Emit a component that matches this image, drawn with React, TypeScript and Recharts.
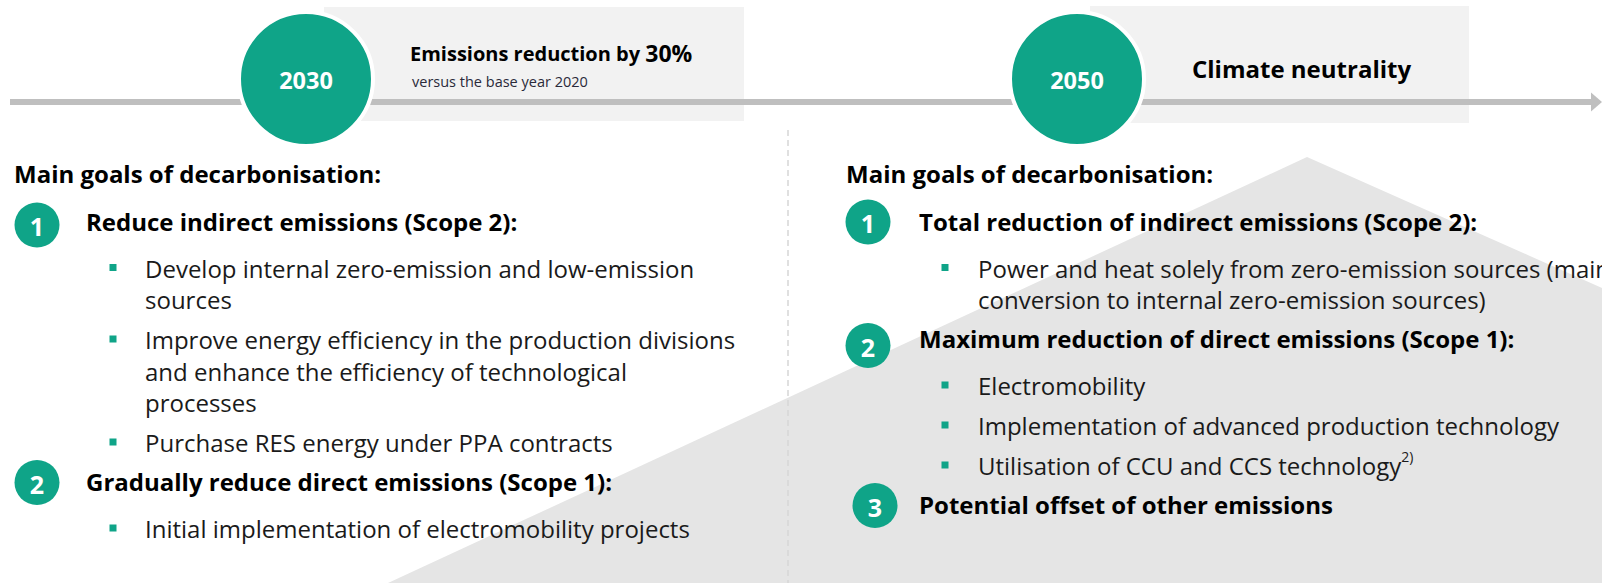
import React from 'react';
import { ComposedChart, XAxis, YAxis, Scatter, Customized } from 'recharts';

const milestoneYears = [2030, 2050];
const milestoneLabels = ['2030', '2050'];
const milestoneHeadlines = ['Emissions reduction by ', 'Climate neutrality'];
const milestoneHighlights = ['30%', ''];
const milestoneNotes = ['versus the base year 2020', ''];

const sectionTitle = 'Main goals of decarbonisation:';

const goals2030 = ['Reduce indirect emissions (Scope 2):', 'Gradually reduce direct emissions (Scope 1):'];
const bullets2030 = [
  [
    ['Develop internal zero-emission and low-emission', 'sources'],
    ['Improve energy efficiency in the production divisions', 'and enhance the efficiency of technological', 'processes'],
    ['Purchase RES energy under PPA contracts'],
  ],
  [['Initial implementation of electromobility projects']],
];
const notes2030 = [['', '', ''], ['']];

const goals2050 = [
  'Total reduction of indirect emissions (Scope 2):',
  'Maximum reduction of direct emissions (Scope 1):',
  'Potential offset of other emissions',
];
const bullets2050 = [
  [['Power and heat solely from zero-emission sources (mainly', 'conversion to internal zero-emission sources)']],
  [['Electromobility'], ['Implementation of advanced production technology'], ['Utilisation of CCU and CCS technology']],
  [],
];
const notes2050 = [[''], ['', '', '2)'], []];

// layout (pixels)
const W = 1602;
const H = 583;
const TEAL = '#0fa488';
const FONT = "'Open Sans', sans-serif";
const M = { top: 79, right: 525, bottom: 481, left: 306 };
const yearToPx = (y: number) => M.left + ((y - 2030) / 20) * (W - M.left - M.right);

const milestoneLayout = [
  { boxDx: 18, boxW: 420, boxTop: 7, boxBottom: 121, titleDx: 104, titleDy: -26, size: 20, noteDx: 106, noteDy: 2 },
  { boxDx: 13, boxW: 379, boxTop: 6, boxBottom: 123, titleDx: 115, titleDy: -11, size: 24, noteDx: 0, noteDy: 0 },
];

const columns = [
  {
    titleX: 14, badgeX: 37, headX: 86, squareX: 113, textX: 145,
    goals: goals2030, bullets: bullets2030, notes: notes2030,
    badgeOffsets: [[0, 4], [0, 1]],
  },
  {
    titleX: 846, badgeX: 868, headX: 919, squareX: 945, textX: 978,
    goals: goals2050, bullets: bullets2050, notes: notes2050,
    badgeOffsets: [[0, 1], [0, 7], [7, 1]],
  },
];

const TITLE_Y = 173;
const FIRST_HEAD_Y = 221;
const HEAD_TO_BULLET = 47;
const LINE_STEP = 31.5;
const BULLET_GAP = 40;
const BULLET_TO_HEAD = 39;
const HEAD_TO_HEAD = 38;

function Background() {
  return (
    <g>
      <polygon points={`388,${H} 1307,157 ${W},288 ${W},${H}`} fill="#e5e5e5" />
      <line x1={788} y1={130} x2={788} y2={H} stroke="#d6d6d6" strokeWidth={1.5} strokeDasharray="6 4" />
      {milestoneYears.map((yr, i) => {
        const L = milestoneLayout[i];
        const x = yearToPx(yr) + L.boxDx;
        return <rect key={yr} x={x} y={L.boxTop} width={L.boxW} height={L.boxBottom - L.boxTop} fill="#f2f2f2" />;
      })}
      <line x1={10} y1={102} x2={1594} y2={102} stroke="#bfbfbf" strokeWidth={6} />
      <polygon points={`1591,92.5 ${W},102 1591,111.5`} fill="#bfbfbf" />
    </g>
  );
}

function MilestoneShape(props: any) {
  const { cx, cy, payload } = props;
  const i = payload.index;
  const L = milestoneLayout[i];
  return (
    <g>
      <circle cx={cx} cy={cy} r={67} fill={TEAL} stroke="#fff" strokeWidth={4} />
      <text x={cx} y={cy + 1} textAnchor="middle" dominantBaseline="central" fill="#fff" fontFamily={FONT} fontSize={23.5} fontWeight={700}>
        {payload.label}
      </text>
      <text x={cx + L.titleDx} y={cy + L.titleDy} dominantBaseline="central" fill="#000" fontFamily={FONT} fontSize={L.size} fontWeight={700}>
        {payload.headline}
        {payload.highlight ? <tspan fontSize={23}>{payload.highlight}</tspan> : null}
      </text>
      {payload.note ? (
        <text x={cx + L.noteDx} y={cy + L.noteDy} dominantBaseline="central" fill="#2a2a3a" fontFamily={FONT} fontSize={14.5}>
          {payload.note}
        </text>
      ) : null}
    </g>
  );
}

function Goals() {
  const out: React.ReactNode[] = [];
  columns.forEach((c, ci) => {
    out.push(
      <text key={`t${ci}`} x={c.titleX} y={TITLE_Y} dominantBaseline="central" fill="#000" fontFamily={FONT} fontSize={24} fontWeight={700}>
        {sectionTitle}
      </text>
    );
    let y = FIRST_HEAD_Y;
    c.goals.forEach((g, gi) => {
      const [bdx, bdy] = c.badgeOffsets[gi];
      out.push(
        <g key={`g${ci}-${gi}`}>
          <circle cx={c.badgeX + bdx} cy={y + bdy} r={22.5} fill={TEAL} />
          <text x={c.badgeX + bdx} y={y + bdy + 1} textAnchor="middle" dominantBaseline="central" fill="#fff" fontFamily={FONT} fontSize={25} fontWeight={700}>
            {gi + 1}
          </text>
          <text x={c.headX} y={y} dominantBaseline="central" fill="#000" fontFamily={FONT} fontSize={24} fontWeight={700}>
            {g}
          </text>
        </g>
      );
      const bl = c.bullets[gi];
      if (bl.length === 0) {
        y += HEAD_TO_HEAD;
        return;
      }
      y += HEAD_TO_BULLET;
      bl.forEach((lines, bi) => {
        out.push(<rect key={`s${ci}-${gi}-${bi}`} x={c.squareX - 3.5} y={y - 4} width={7} height={7} fill={TEAL} />);
        lines.forEach((ln, li) => {
          const note = li === lines.length - 1 ? c.notes[gi][bi] : '';
          out.push(
            <text key={`l${ci}-${gi}-${bi}-${li}`} x={c.textX} y={y} dominantBaseline="central" fill="#1a1a1a" fontFamily={FONT} fontSize={24}>
              {ln}
              {note ? <tspan fontSize={14} dy={-10}>{note}</tspan> : null}
            </text>
          );
          if (li < lines.length - 1) y += LINE_STEP;
        });
        y += bi < bl.length - 1 ? BULLET_GAP : BULLET_TO_HEAD;
      });
    });
  });
  return <g>{out}</g>;
}

const milestoneData = milestoneYears.map((year, index) => ({
  year,
  level: 1,
  index,
  label: milestoneLabels[index],
  headline: milestoneHeadlines[index],
  highlight: milestoneHighlights[index],
  note: milestoneNotes[index],
}));

export default function App() {
  return (
    <div style={{ position: 'absolute', left: 0, top: 0, width: W, height: H, overflow: 'hidden', background: '#fff' }}>
      <ComposedChart width={W} height={H} data={milestoneData} margin={M}>
        <XAxis type="number" dataKey="year" domain={[2030, 2050]} hide />
        <YAxis type="number" domain={[0, 1]} hide />
        <Customized component={<Background />} />
        <Scatter dataKey="level" isAnimationActive={false} shape={(p: any) => <MilestoneShape {...p} />} />
        <Customized component={<Goals />} />
      </ComposedChart>
    </div>
  );
}
